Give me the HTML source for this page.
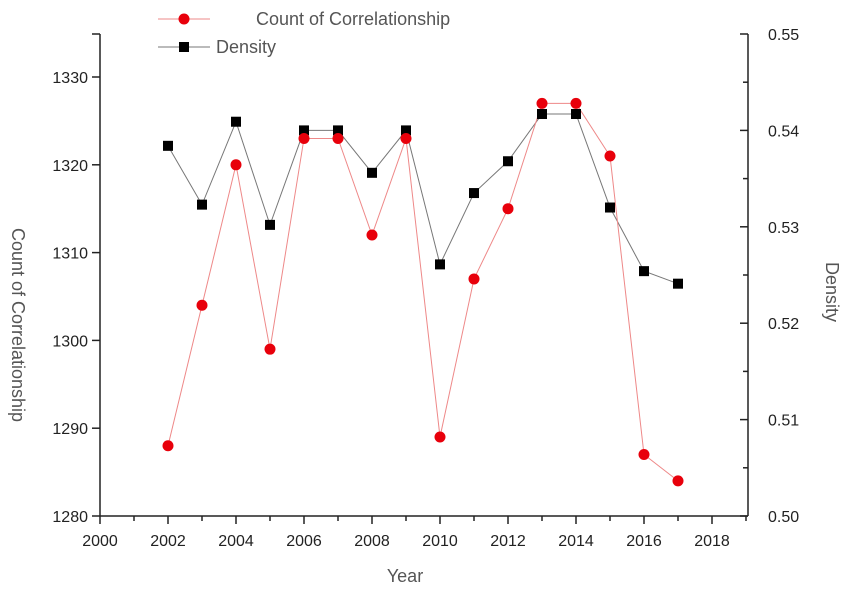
<!DOCTYPE html>
<html><head><meta charset="utf-8"><style>
body{margin:0;background:#fff;}
svg text{font-family:"Liberation Sans",sans-serif;}
</style></head><body>
<svg id="chart" width="851" height="592"></svg>
<script>
const years=[2002,2003,2004,2005,2006,2007,2008,2009,2010,2011,2012,2013,2014,2015,2016,2017];
const counts=[1288,1304,1320,1299,1323,1323,1312,1323,1289,1307,1315,1327,1327,1321,1287,1284];
const density=[0.5384,0.5323,0.5409,0.5302,0.5400,0.5400,0.5356,0.5400,0.5261,0.5335,0.5368,0.5417,0.5417,0.5320,0.5254,0.5241];
const xTicks=[2000,2002,2004,2006,2008,2010,2012,2014,2016,2018];
const yLeftTicks=[1280,1290,1300,1310,1320,1330];
const yRightTicks=[0.50,0.51,0.52,0.53,0.54,0.55];
const NS="http://www.w3.org/2000/svg";
const svg=document.getElementById('chart');
const X0=100,X1=748,YB=516,YT=34;
const xs=v=>X0+(v-2000)*34;
const yl=v=>YB-(v-1280)*8.78;
const yr=v=>YB-(v-0.50)*9640;
function el(t,a,p){const e=document.createElementNS(NS,t);for(const k in a)e.setAttribute(k,a[k]);(p||svg).appendChild(e);return e;}
const ax=el('g',{stroke:'#222','stroke-width':1.5,fill:'none'});


el('line',{x1:X0,y1:YT,x2:X0,y2:YB},ax);
el('line',{x1:X1,y1:YT,x2:X1,y2:YB},ax);
el('line',{x1:X0,y1:YB,x2:X1,y2:YB},ax);
el('line',{x1:X0-8,y1:YT,x2:X0,y2:YT},ax);
for(let y=2000;y<=2019;y++){const big=y%2===0;el('line',{x1:xs(y),y1:YB,x2:xs(y),y2:YB+(big?8:5)},ax);}
xTicks.forEach(v=>{const t=el('text',{x:xs(v),y:YB+30,'text-anchor':'middle','font-size':16,fill:'#222'});t.textContent=v;

});
yLeftTicks.forEach(v=>{el('line',{x1:X0-8,y1:yl(v),x2:X0,y2:yl(v)},ax);});
yLeftTicks.forEach(v=>{const t=el('text',{x:X0-12,y:yl(v)+6,'text-anchor':'end','font-size':16,fill:'#222'});t.textContent=v;

});
for(let i=0;i<=10;i++){const v=0.50+i*0.005;el('line',{x1:X1-(i%2===0?8:5),y1:yr(v),x2:X1,y2:yr(v)},ax);}
yRightTicks.forEach(v=>{const t=el('text',{x:X1+20,y:yr(v)+6,'font-size':16,fill:'#222'});t.textContent=v.toFixed(2);

});
let t=el('text',{x:405,y:582,'text-anchor':'middle','font-size':18,fill:'#555'});t.textContent='Year';

t=el('text',{x:0,y:0,'text-anchor':'middle','font-size':18,fill:'#555',transform:'translate(12,325) rotate(90)'});t.textContent='Count of Correlationship';

t=el('text',{x:0,y:0,'text-anchor':'middle','font-size':18,fill:'#555',transform:'translate(826,292) rotate(90)'});t.textContent='Density';

const dl=el('polyline',{points:years.map((y,i)=>xs(y)+','+yr(density[i])).join(' '),stroke:'#777','stroke-width':1,fill:'none'});

const cl=el('polyline',{points:years.map((y,i)=>xs(y)+','+yl(counts[i])).join(' '),stroke:'#e88','stroke-width':1,fill:'none'});

years.forEach((y,i)=>{const r=el('rect',{x:xs(y)-5,y:yr(density[i])-5,width:10,height:10,fill:'#000'});
});
years.forEach((y,i)=>{const c=el('circle',{cx:xs(y),cy:yl(counts[i]),r:5.5,fill:'#e8000b'});
});
const lg=el('g',{});

el('line',{x1:158,y1:19,x2:210,y2:19,stroke:'#e88','stroke-width':1},lg);
el('circle',{cx:184,cy:19,r:5.5,fill:'#e8000b'},lg);
t=el('text',{x:256,y:25,'font-size':18,fill:'#555'},lg);t.textContent='Count of Correlationship';
el('line',{x1:158,y1:47,x2:210,y2:47,stroke:'#777','stroke-width':1},lg);
el('rect',{x:179,y:42,width:10,height:10,fill:'#000'},lg);
t=el('text',{x:216,y:53,'font-size':18,fill:'#555'},lg);t.textContent='Density';
</script>
</body></html>
